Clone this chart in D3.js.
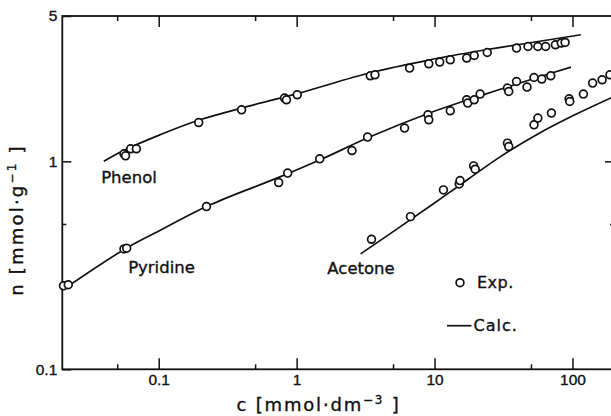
<!DOCTYPE html>
<html><head><meta charset="utf-8">
<script src="https://cdn.jsdelivr.net/npm/d3@7"></script>
<style>body{margin:0;background:#fff;} svg{display:block;}</style>
</head><body>
<svg id="chart" width="611" height="416"></svg>
<script>
// ---- data ----
const xMajorTicks = [0.1, 1, 10, 100];
const xMajorLabels = ["0.1", "1", "10", "100"];
const xMinorTicks = [0.05, 0.5, 5, 50];
const yTicks = [0.1, 1, 5];
const yTickLabels = ["0.1", "1", "5"];
const yMinorTicks = [0.5];

const phenolC = [0.056, 0.0575, 0.0626, 0.0689, 0.195, 0.399, 0.817, 0.844, 1.01, 3.42, 3.70, 6.59, 9.08, 10.9, 13.0, 17.1, 19.4, 24.1, 39.3, 47.6, 56.1, 63.9, 75.2, 82.9, 88.4];
const phenolN = [1.087, 1.063, 1.149, 1.149, 1.537, 1.769, 2.015, 1.977, 2.089, 2.579, 2.608, 2.808, 2.946, 3.002, 3.079, 3.138, 3.229, 3.338, 3.505, 3.567, 3.567, 3.567, 3.635, 3.705, 3.730];
const phenolCalcC = [0.04, 0.057, 0.102, 0.199, 0.459, 1.06, 3.41, 9.28, 21.4, 49.3, 115];
const phenolCalcN = [1.0, 1.136, 1.341, 1.584, 1.849, 2.136, 2.667, 3.079, 3.402, 3.718, 4.062];

const pyridineC = [0.0204, 0.0221, 0.056, 0.0586, 0.222, 0.741, 0.861, 1.47, 2.52, 3.27, 6.06, 8.96, 9.08, 13.0, 17.1, 17.4, 19.4, 21.4, 33.8, 34.5, 39.3, 46.8, 52.6, 59.9, 69.6];
const pyridineN = [0.252, 0.255, 0.379, 0.382, 0.606, 0.791, 0.878, 1.028, 1.127, 1.308, 1.445, 1.674, 1.584, 1.750, 1.977, 1.906, 1.977, 2.106, 2.25, 2.167, 2.421, 2.276, 2.531, 2.487, 2.579];
const pyridineCalcC = [0.0206, 0.057, 0.102, 0.236, 0.758, 1.48, 3.41, 9.28, 21.4, 49.3, 97.5];
const pyridineCalcN = [0.2435, 0.379, 0.465, 0.618, 0.842, 1.017, 1.312, 1.712, 2.066, 2.467, 2.84];

const acetoneC = [3.49, 6.69, 11.6, 15.1, 15.3, 19.2, 19.7, 33.8, 34.5, 52.6, 56.1, 70.4, 94.5, 95.6, 120, 140, 164, 187];
const acetoneN = [0.422, 0.542, 0.729, 0.779, 0.808, 0.951, 0.917, 1.223, 1.178, 1.498, 1.614, 1.706, 2.0, 1.94, 2.106, 2.378, 2.467, 2.608];
const acetoneCalcC = [2.91, 5.62, 13.0, 29.9, 58.2, 104, 200];
const acetoneCalcN = [0.359, 0.484, 0.713, 1.051, 1.372, 1.674, 2.05];

const seriesNames = ["Phenol", "Pyridine", "Acetone"];
const legendLabels = ["Exp.", "Calc."];

// ---- drawing ----
const svg = d3.select("#chart");
const L = 62.3, R = 614, T = 16, B = 369.3;
const x = d3.scaleLog().domain([0.02, 200]).range([L, R]);
const y = d3.scaleLog().domain([0.1, 5]).range([B, T]);
const ink = "#111";
const numFont = "'Liberation Sans', Arial, sans-serif";
const wordFont = "'DejaVu Sans', sans-serif";

function styleAxis(g) {
  g.select(".domain").remove();
  g.selectAll(".tick line").attr("stroke", ink).attr("stroke-width", 1.5);
  g.selectAll(".tick text").attr("fill", ink).attr("font-family", numFont).attr("font-size", 15.5)
    .attr("stroke", ink).attr("stroke-width", 0.35);
}

// bottom axis
svg.append("g").attr("transform", `translate(0,${B})`)
  .call(d3.axisBottom(x).tickValues(xMajorTicks).tickSize(-11).tickPadding(5)
    .tickFormat((d, i) => xMajorLabels[i])).call(styleAxis);
svg.append("g").attr("transform", `translate(0,${B})`)
  .call(d3.axisBottom(x).tickValues(xMinorTicks).tickSize(-5).tickFormat("")).call(styleAxis);
// top axis
svg.append("g").attr("transform", `translate(0,${T})`)
  .call(d3.axisTop(x).tickValues(xMajorTicks).tickSize(-11).tickFormat("")).call(styleAxis);
svg.append("g").attr("transform", `translate(0,${T})`)
  .call(d3.axisTop(x).tickValues(xMinorTicks).tickSize(-5).tickFormat("")).call(styleAxis);
// left axis
svg.append("g").attr("transform", `translate(${L},0)`)
  .call(d3.axisLeft(y).tickValues(yTicks).tickSize(-9).tickPadding(5)
    .tickFormat((d, i) => yTickLabels[i])).call(styleAxis);
svg.append("g").attr("transform", `translate(${L},0)`)
  .call(d3.axisLeft(y).tickValues(yMinorTicks).tickSize(-4).tickFormat("")).call(styleAxis);
// right axis
svg.append("g").attr("transform", `translate(${R},0)`)
  .call(d3.axisRight(y).tickValues([1]).tickSize(-9).tickFormat("")).call(styleAxis);
svg.append("g").attr("transform", `translate(${R},0)`)
  .call(d3.axisRight(y).tickValues(yMinorTicks).tickSize(-4).tickFormat("")).call(styleAxis);

// frame
svg.append("rect").attr("x", L).attr("y", T).attr("width", R - L).attr("height", B - T)
  .attr("fill", "none").attr("stroke", ink).attr("stroke-width", 1.8);

// calc lines
const line = d3.line().x(d => x(d[0])).y(d => y(d[1])).curve(d3.curveCatmullRom.alpha(0.5));
const calc = [
  d3.zip(phenolCalcC, phenolCalcN),
  d3.zip(pyridineCalcC, pyridineCalcN),
  d3.zip(acetoneCalcC, acetoneCalcN)
];
svg.append("g").selectAll("path").data(calc).join("path")
  .attr("d", line).attr("fill", "none").attr("stroke", ink).attr("stroke-width", 1.7);

// experimental points
const exp = [
  ...d3.zip(phenolC, phenolN),
  ...d3.zip(pyridineC, pyridineN),
  ...d3.zip(acetoneC, acetoneN)
];
svg.append("g").selectAll("circle").data(exp).join("circle")
  .attr("cx", d => x(d[0])).attr("cy", d => y(d[1])).attr("r", 3.9)
  .attr("fill", "#fff").attr("stroke", ink).attr("stroke-width", 1.7);

// series labels
const labelPos = [[0.0609, 0.845], [0.1048, 0.31], [2.93, 0.306]];
svg.append("g").selectAll("text").data(seriesNames).join("text")
  .attr("x", (d, i) => x(labelPos[i][0])).attr("y", (d, i) => y(labelPos[i][1]))
  .attr("dy", "0.36em").attr("text-anchor", "middle")
  .attr("font-family", wordFont).attr("font-size", 16.5).attr("fill", ink)
  .attr("stroke", ink).attr("stroke-width", 0.35).text(d => d);

// legend
const lg = svg.append("g");
lg.append("circle").attr("cx", 460).attr("cy", 282.7).attr("r", 3.9)
  .attr("fill", "#fff").attr("stroke", ink).attr("stroke-width", 1.7);
lg.append("text").attr("x", 477).attr("y", 282.7).attr("dy", "0.36em")
  .attr("font-family", wordFont).attr("font-size", 16).attr("letter-spacing", 0.5).attr("fill", ink)
  .attr("stroke", ink).attr("stroke-width", 0.35).text(legendLabels[0]);
lg.append("line").attr("x1", 447).attr("x2", 471.5).attr("y1", 325.7).attr("y2", 325.7)
  .attr("stroke", ink).attr("stroke-width", 1.7);
lg.append("text").attr("x", 473.5).attr("y", 325.7).attr("dy", "0.36em")
  .attr("font-family", wordFont).attr("font-size", 16).attr("letter-spacing", 1).attr("fill", ink)
  .attr("stroke", ink).attr("stroke-width", 0.35).text(legendLabels[1]);

// axis titles
const xt = svg.append("text").attr("x", 318.6).attr("y", 411).attr("text-anchor", "middle")
  .attr("font-family", wordFont).attr("font-size", 18).attr("letter-spacing", 1.8).attr("fill", ink)
  .attr("stroke", ink).attr("stroke-width", 0.35);
xt.append("tspan").text("c [mmol·dm");
xt.append("tspan").attr("dy", -7).attr("font-size", 12).text("−3");
xt.append("tspan").attr("dy", 7).text(" ]");

const yt = svg.append("text").attr("transform", "translate(23,220) rotate(-90)").attr("text-anchor", "middle")
  .attr("font-family", wordFont).attr("font-size", 18).attr("letter-spacing", 2.2).attr("fill", ink)
  .attr("stroke", ink).attr("stroke-width", 0.35);
yt.append("tspan").text("n [mmol·g");
yt.append("tspan").attr("dy", -7).attr("font-size", 12).text("−1");
yt.append("tspan").attr("dy", 7).text(" ]");
</script>
</body></html>
